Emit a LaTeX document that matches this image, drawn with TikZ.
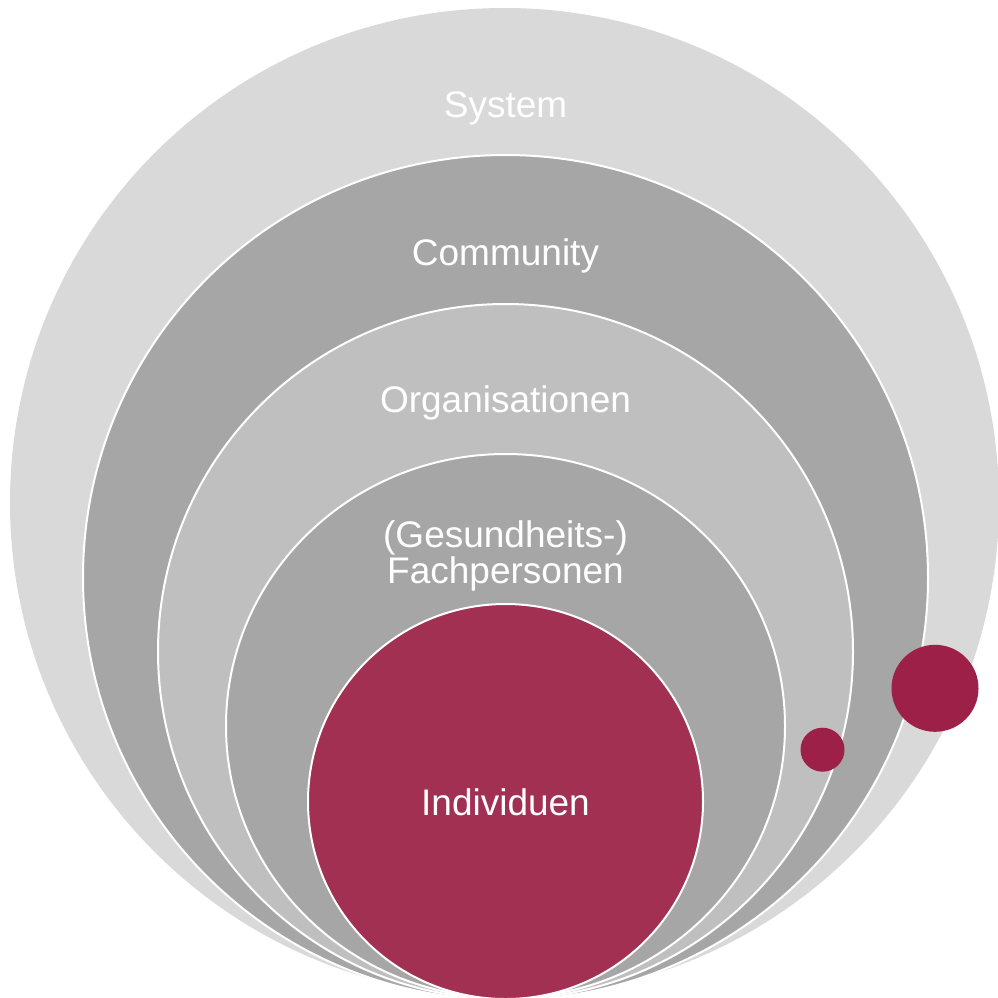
\documentclass[tikz,border=0pt]{standalone}
\usepackage{fontspec}
\setmainfont{Liberation Sans}
\usetikzlibrary{shapes.geometric}
\definecolor{sysgray}{HTML}{D9D9D9}
\definecolor{darkgray}{HTML}{A6A6A6}
\definecolor{midgray}{HTML}{BFBFBF}
\definecolor{wine}{HTML}{A23052}
\definecolor{dotwine}{HTML}{9D2049}
\tikzset{
  ring/.style={circle, inner sep=0pt, outer sep=0pt, draw=white, line width=2pt},
  dot/.style={circle, inner sep=0pt, outer sep=0pt, fill=dotwine, draw=none},
  lbl/.style={text=white, font=\fontsize{37}{33}\selectfont, anchor=base, inner sep=0pt}
}
\begin{document}
\begin{tikzpicture}[x=1pt,y=-1pt]
  \useasboundingbox (0,0) rectangle (998,997);
  \begin{scope}
    \clip (0,0) rectangle (998,997);
    % nested layers, all touching the bottom edge
    \node[ring, draw=none, fill=sysgray, minimum size=989pt] (sys) at (504.5,502.5) {};
    \node[ring, fill=darkgray, minimum size=845pt] (com) at (505.5,577.5) {};
    \node[ring, fill=midgray, minimum size=695pt] (org) at (505.5,651.5) {};
    \node[ellipse, inner sep=0pt, outer sep=0pt, draw=white, line width=2pt,
          fill=darkgray, minimum width=559pt, minimum height=544pt] (fach) at (505.5,726) {};
    \node[ring, fill=wine, minimum size=395pt] (ind) at (505.5,801.5) {};
    % small accent dots
    \node[dot, minimum size=87pt] (dotA) at (935,688.3) {};
    \node[dot, minimum size=44pt] (dotB) at (822.5,749.7) {};
  \end{scope}
  % layer labels
  \node[lbl] (tsys) at (505.5,117) {System};
  \node[lbl] (tcom) at (505.5,265) {Community};
  \node[lbl] (torg) at (505.5,412) {Organisationen};
  \node[lbl, align=center] (tfach) at (505.5,583) {(Gesundheits-)\\Fachpersonen};
  \node[lbl] (tind) at (505.5,815.5) {Individuen};
\end{tikzpicture}
\end{document}
